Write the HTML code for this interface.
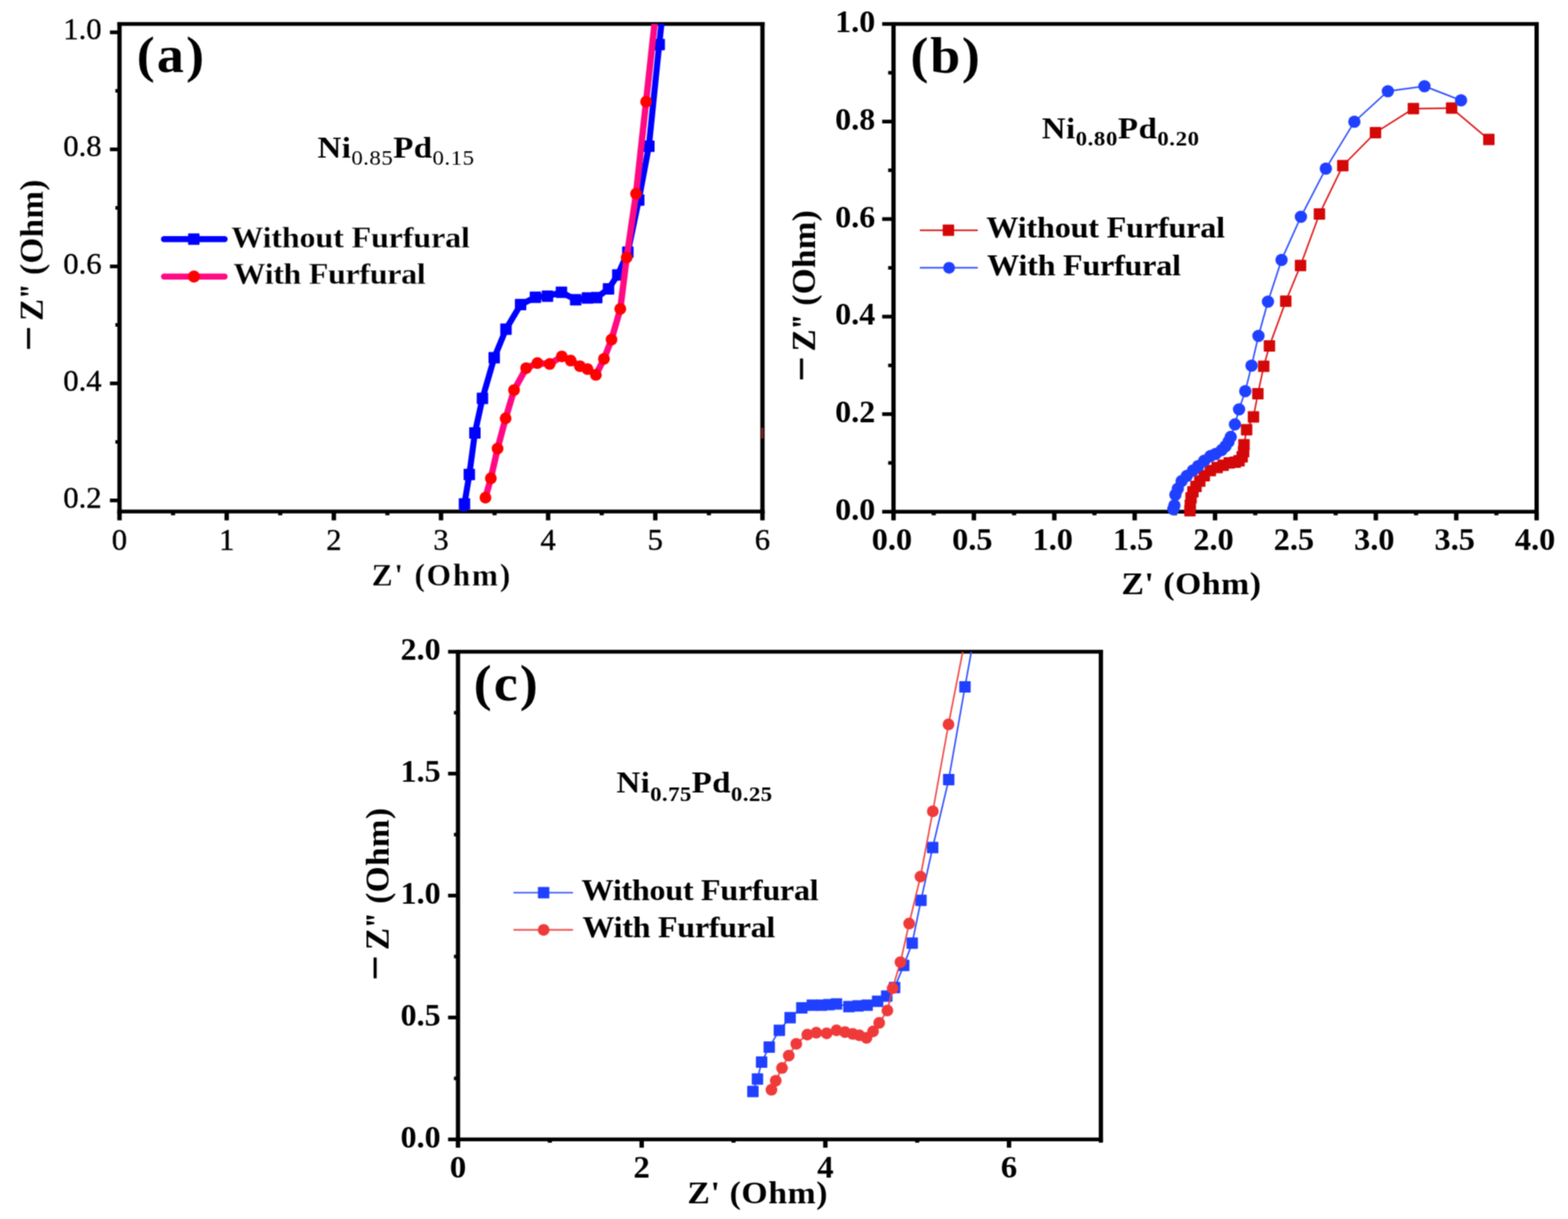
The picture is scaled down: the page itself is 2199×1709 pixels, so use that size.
<!DOCTYPE html>
<html lang="en">
<head>
<meta charset="utf-8">
<title>Nyquist plots of NiPd catalysts with and without furfural</title>
<style>
html,body{margin:0;padding:0;background:#fff;}
body{width:2199px;height:1709px;overflow:hidden;}
svg{display:block;font-family:'Liberation Serif', 'DejaVu Serif', serif;}
svg text{fill:#000;}
</style>
</head>
<body>
<svg width="2199" height="1709" viewBox="0 0 2199 1709">
<defs>
<filter id="soften" x="0" y="0" width="2199" height="1709" filterUnits="userSpaceOnUse" color-interpolation-filters="sRGB">
<feConvolveMatrix order="3" kernelMatrix="1 2 1 2 4 2 1 2 1" divisor="16" edgeMode="duplicate" preserveAlpha="false"/>
</filter>
</defs>
<g filter="url(#soften)">
<rect width="2199" height="1709" fill="#fff"/>
<g id="panel-a">
<line x1="154.2" y1="45.3" x2="167.6" y2="45.3" stroke="#000" stroke-width="5.2" stroke-linecap="butt"/>
<text transform="translate(142.6,55.3) scale(1.0,1)" font-size="43" font-weight="normal" text-anchor="end" stroke="#000" stroke-width="0.5">1.0</text>
<line x1="154.2" y1="209.4" x2="167.6" y2="209.4" stroke="#000" stroke-width="5.2" stroke-linecap="butt"/>
<text transform="translate(142.6,219.4) scale(1.0,1)" font-size="43" font-weight="normal" text-anchor="end" stroke="#000" stroke-width="0.5">0.8</text>
<line x1="154.2" y1="373.5" x2="167.6" y2="373.5" stroke="#000" stroke-width="5.2" stroke-linecap="butt"/>
<text transform="translate(142.6,383.5) scale(1.0,1)" font-size="43" font-weight="normal" text-anchor="end" stroke="#000" stroke-width="0.5">0.6</text>
<line x1="154.2" y1="537.5" x2="167.6" y2="537.5" stroke="#000" stroke-width="5.2" stroke-linecap="butt"/>
<text transform="translate(142.6,547.5) scale(1.0,1)" font-size="43" font-weight="normal" text-anchor="end" stroke="#000" stroke-width="0.5">0.4</text>
<line x1="154.2" y1="701.6" x2="167.6" y2="701.6" stroke="#000" stroke-width="5.2" stroke-linecap="butt"/>
<text transform="translate(142.6,711.6) scale(1.0,1)" font-size="43" font-weight="normal" text-anchor="end" stroke="#000" stroke-width="0.5">0.2</text>
<line x1="161.8" y1="127.3" x2="167.6" y2="127.3" stroke="#000" stroke-width="5" stroke-linecap="butt"/>
<line x1="161.8" y1="291.4" x2="167.6" y2="291.4" stroke="#000" stroke-width="5" stroke-linecap="butt"/>
<line x1="161.8" y1="455.5" x2="167.6" y2="455.5" stroke="#000" stroke-width="5" stroke-linecap="butt"/>
<line x1="161.8" y1="619.6" x2="167.6" y2="619.6" stroke="#000" stroke-width="5" stroke-linecap="butt"/>
<line x1="167.6" y1="717.1" x2="167.6" y2="729.5" stroke="#000" stroke-width="6.2" stroke-linecap="butt"/>
<text transform="translate(167.6,771.3) scale(1.0,1)" font-size="43" font-weight="normal" text-anchor="middle" stroke="#000" stroke-width="0.5">0</text>
<line x1="317.9" y1="717.1" x2="317.9" y2="729.5" stroke="#000" stroke-width="6.2" stroke-linecap="butt"/>
<text transform="translate(317.9,771.3) scale(1.0,1)" font-size="43" font-weight="normal" text-anchor="middle" stroke="#000" stroke-width="0.5">1</text>
<line x1="468.2" y1="717.1" x2="468.2" y2="729.5" stroke="#000" stroke-width="6.2" stroke-linecap="butt"/>
<text transform="translate(468.2,771.3) scale(1.0,1)" font-size="43" font-weight="normal" text-anchor="middle" stroke="#000" stroke-width="0.5">2</text>
<line x1="618.5" y1="717.1" x2="618.5" y2="729.5" stroke="#000" stroke-width="6.2" stroke-linecap="butt"/>
<text transform="translate(618.5,771.3) scale(1.0,1)" font-size="43" font-weight="normal" text-anchor="middle" stroke="#000" stroke-width="0.5">3</text>
<line x1="768.7" y1="717.1" x2="768.7" y2="729.5" stroke="#000" stroke-width="6.2" stroke-linecap="butt"/>
<text transform="translate(768.7,771.3) scale(1.0,1)" font-size="43" font-weight="normal" text-anchor="middle" stroke="#000" stroke-width="0.5">4</text>
<line x1="919.0" y1="717.1" x2="919.0" y2="729.5" stroke="#000" stroke-width="6.2" stroke-linecap="butt"/>
<text transform="translate(919.0,771.3) scale(1.0,1)" font-size="43" font-weight="normal" text-anchor="middle" stroke="#000" stroke-width="0.5">5</text>
<line x1="1069.3" y1="717.1" x2="1069.3" y2="729.5" stroke="#000" stroke-width="6.2" stroke-linecap="butt"/>
<text transform="translate(1069.3,771.3) scale(1.0,1)" font-size="43" font-weight="normal" text-anchor="middle" stroke="#000" stroke-width="0.5">6</text>
<line x1="242.7" y1="717.1" x2="242.7" y2="722.4" stroke="#000" stroke-width="5.8" stroke-linecap="butt"/>
<line x1="393.0" y1="717.1" x2="393.0" y2="722.4" stroke="#000" stroke-width="5.8" stroke-linecap="butt"/>
<line x1="543.3" y1="717.1" x2="543.3" y2="722.4" stroke="#000" stroke-width="5.8" stroke-linecap="butt"/>
<line x1="693.6" y1="717.1" x2="693.6" y2="722.4" stroke="#000" stroke-width="5.8" stroke-linecap="butt"/>
<line x1="843.9" y1="717.1" x2="843.9" y2="722.4" stroke="#000" stroke-width="5.8" stroke-linecap="butt"/>
<line x1="994.2" y1="717.1" x2="994.2" y2="722.4" stroke="#000" stroke-width="5.8" stroke-linecap="butt"/>
<rect x="164.60" y="30.95" width="907.70" height="5.3" fill="#000"/>
<rect x="164.60" y="714.45" width="907.70" height="5.3" fill="#000"/>
<rect x="164.60" y="30.95" width="6.0" height="688.80" fill="#000"/>
<rect x="1066.30" y="30.95" width="6.0" height="688.80" fill="#000"/>
<text transform="translate(523.30,820.70) scale(1.0000,1.0000)" x="-2.11" y="0" letter-spacing="2.46" stroke="#fff" stroke-width="0.3" xml:space="preserve"><tspan font-size="44" font-weight="bold">Z' (Ohm)</tspan></text>
<text transform="translate(59.50,489.00) rotate(-90) scale(1.0000,1.0000)" x="-3.32" y="0" letter-spacing="0.48" stroke="#fff" stroke-width="0.2" xml:space="preserve"><tspan font-size="63" font-weight="bold" dy="1.90">−</tspan><tspan font-size="22" font-weight="bold" dy="-1.90"> </tspan><tspan font-size="46.5" font-weight="bold">Z</tspan><tspan font-size="46.5" font-weight="bold" letter-spacing="-5.52">'</tspan><tspan font-size="46.5" font-weight="bold">' (Ohm)</tspan></text>
<text transform="translate(195.00,100.50) scale(1.0600,1.0000)" x="-3.14" y="0" letter-spacing="2.97" xml:space="preserve"><tspan font-size="71.5" font-weight="bold">(a)</tspan></text>
<text transform="translate(446.10,221.00) scale(1.0750,1.0000)" x="-0.82" y="0" letter-spacing="0.56" xml:space="preserve"><tspan font-size="43" font-weight="bold">Ni</tspan><tspan font-size="30" font-weight="normal" dy="10.30">0.85</tspan><tspan font-size="43" font-weight="bold" dy="-10.30">Pd</tspan><tspan font-size="30" font-weight="normal" dy="10.30">0.15</tspan></text>
<line x1="230.0" y1="335.3" x2="315.0" y2="335.3" stroke="#0000ff" stroke-width="8.5" stroke-linecap="round"/>
<rect x="263.8" y="327.3" width="16" height="16" rx="0.8" fill="#0000ff"/>
<line x1="230.0" y1="387.8" x2="315.0" y2="387.8" stroke="#ff0a84" stroke-width="8.5" stroke-linecap="round"/>
<circle cx="272.0" cy="387.8" r="8.5" fill="#ff0000"/>
<text transform="translate(324.80,346.90) scale(1.0750,1.0000)" x="-0.59" y="0" letter-spacing="-0.26" stroke="#fff" stroke-width="0.3" xml:space="preserve"><tspan font-size="42" font-weight="bold">Without Furfural</tspan></text>
<text transform="translate(328.00,398.40) scale(1.0750,1.0000)" x="-0.59" y="0" letter-spacing="-0.51" stroke="#fff" stroke-width="0.3" xml:space="preserve"><tspan font-size="42" font-weight="bold">With Furfural</tspan></text>
<rect x="1067.6" y="599.5" width="3" height="15.5" rx="1" fill="#8c2020"/>
<clipPath id="clipA"><rect x="167.6" y="33.6" width="901.7" height="683.5"/></clipPath><g clip-path="url(#clipA)">
<polyline points="649.6,720.0 651.4,706.4 658.2,665.2 666.0,607.0 676.6,558.6 693.1,501.6 709.6,461.5 730.1,427.1 750.9,416.7 767.8,415.3 787.4,409.7 807.4,420.3 823.9,417.7 836.9,417.2 853.4,405.0 866.4,385.4 880.5,353.6 895.8,280.4 910.0,205.0 924.5,62.4 928.2,28.0 929.0,20.0" fill="none" stroke="#0000ff" stroke-width="8.5" stroke-linejoin="round"/>
<rect x="643.4" y="698.4" width="16" height="16" rx="0.8" fill="#0000ff"/>
<rect x="650.2" y="657.2" width="16" height="16" rx="0.8" fill="#0000ff"/>
<rect x="658.0" y="599.0" width="16" height="16" rx="0.8" fill="#0000ff"/>
<rect x="668.6" y="550.6" width="16" height="16" rx="0.8" fill="#0000ff"/>
<rect x="685.1" y="493.6" width="16" height="16" rx="0.8" fill="#0000ff"/>
<rect x="701.6" y="453.5" width="16" height="16" rx="0.8" fill="#0000ff"/>
<rect x="722.1" y="419.1" width="16" height="16" rx="0.8" fill="#0000ff"/>
<rect x="742.9" y="408.7" width="16" height="16" rx="0.8" fill="#0000ff"/>
<rect x="759.8" y="407.3" width="16" height="16" rx="0.8" fill="#0000ff"/>
<rect x="779.4" y="401.7" width="16" height="16" rx="0.8" fill="#0000ff"/>
<rect x="799.4" y="412.3" width="16" height="16" rx="0.8" fill="#0000ff"/>
<rect x="815.9" y="409.7" width="16" height="16" rx="0.8" fill="#0000ff"/>
<rect x="828.9" y="409.2" width="16" height="16" rx="0.8" fill="#0000ff"/>
<rect x="845.4" y="397.0" width="16" height="16" rx="0.8" fill="#0000ff"/>
<rect x="858.4" y="377.4" width="16" height="16" rx="0.8" fill="#0000ff"/>
<rect x="872.5" y="345.6" width="16" height="16" rx="0.8" fill="#0000ff"/>
<rect x="887.8" y="272.4" width="16" height="16" rx="0.8" fill="#0000ff"/>
<rect x="902.0" y="197.0" width="16" height="16" rx="0.8" fill="#0000ff"/>
<rect x="916.5" y="54.4" width="16" height="16" rx="0.8" fill="#0000ff"/>
<polyline points="680.8,697.7 688.4,670.6 697.8,628.9 709.1,586.5 720.9,546.9 737.9,516.2 753.7,509.1 770.9,510.3 787.9,499.7 800.4,505.6 813.3,513.4 823.9,517.4 835.7,525.6 847.0,503.2 857.6,476.1 869.9,433.2 878.9,361.0 892.0,271.6 906.1,142.6 920.5,10.0" fill="none" stroke="#ff0a84" stroke-width="9" stroke-linejoin="round"/>
<circle cx="680.8" cy="697.7" r="8.25" fill="#ff0000"/>
<circle cx="688.4" cy="670.6" r="8.25" fill="#ff0000"/>
<circle cx="697.8" cy="628.9" r="8.25" fill="#ff0000"/>
<circle cx="709.1" cy="586.5" r="8.25" fill="#ff0000"/>
<circle cx="720.9" cy="546.9" r="8.25" fill="#ff0000"/>
<circle cx="737.9" cy="516.2" r="8.25" fill="#ff0000"/>
<circle cx="753.7" cy="509.1" r="8.25" fill="#ff0000"/>
<circle cx="770.9" cy="510.3" r="8.25" fill="#ff0000"/>
<circle cx="787.9" cy="499.7" r="8.25" fill="#ff0000"/>
<circle cx="800.4" cy="505.6" r="8.25" fill="#ff0000"/>
<circle cx="813.3" cy="513.4" r="8.25" fill="#ff0000"/>
<circle cx="823.9" cy="517.4" r="8.25" fill="#ff0000"/>
<circle cx="835.7" cy="525.6" r="8.25" fill="#ff0000"/>
<circle cx="847.0" cy="503.2" r="8.25" fill="#ff0000"/>
<circle cx="857.6" cy="476.1" r="8.25" fill="#ff0000"/>
<circle cx="869.9" cy="433.2" r="8.25" fill="#ff0000"/>
<circle cx="878.9" cy="361.0" r="8.25" fill="#ff0000"/>
<circle cx="892.0" cy="271.6" r="8.25" fill="#ff0000"/>
<circle cx="906.1" cy="142.6" r="8.25" fill="#ff0000"/>
</g>
</g>
<g id="panel-b">
<line x1="1237.2" y1="717.4" x2="1253.1" y2="717.4" stroke="#000" stroke-width="5.2" stroke-linecap="butt"/>
<text transform="translate(1227.5,728.9) scale(1.01,1)" font-size="44.5" font-weight="bold" text-anchor="end">0.0</text>
<line x1="1237.2" y1="580.6" x2="1253.1" y2="580.6" stroke="#000" stroke-width="5.2" stroke-linecap="butt"/>
<text transform="translate(1227.5,592.1) scale(1.01,1)" font-size="44.5" font-weight="bold" text-anchor="end">0.2</text>
<line x1="1237.2" y1="443.9" x2="1253.1" y2="443.9" stroke="#000" stroke-width="5.2" stroke-linecap="butt"/>
<text transform="translate(1227.5,455.4) scale(1.01,1)" font-size="44.5" font-weight="bold" text-anchor="end">0.4</text>
<line x1="1237.2" y1="307.1" x2="1253.1" y2="307.1" stroke="#000" stroke-width="5.2" stroke-linecap="butt"/>
<text transform="translate(1227.5,318.6) scale(1.01,1)" font-size="44.5" font-weight="bold" text-anchor="end">0.6</text>
<line x1="1237.2" y1="170.4" x2="1253.1" y2="170.4" stroke="#000" stroke-width="5.2" stroke-linecap="butt"/>
<text transform="translate(1227.5,181.9) scale(1.01,1)" font-size="44.5" font-weight="bold" text-anchor="end">0.8</text>
<line x1="1237.2" y1="33.6" x2="1253.1" y2="33.6" stroke="#000" stroke-width="5.2" stroke-linecap="butt"/>
<text transform="translate(1227.5,45.1) scale(1.01,1)" font-size="44.5" font-weight="bold" text-anchor="end">1.0</text>
<line x1="1245.6" y1="649.0" x2="1253.1" y2="649.0" stroke="#000" stroke-width="5" stroke-linecap="butt"/>
<line x1="1245.6" y1="512.3" x2="1253.1" y2="512.3" stroke="#000" stroke-width="5" stroke-linecap="butt"/>
<line x1="1245.6" y1="375.5" x2="1253.1" y2="375.5" stroke="#000" stroke-width="5" stroke-linecap="butt"/>
<line x1="1245.6" y1="238.7" x2="1253.1" y2="238.7" stroke="#000" stroke-width="5" stroke-linecap="butt"/>
<line x1="1245.6" y1="102.0" x2="1253.1" y2="102.0" stroke="#000" stroke-width="5" stroke-linecap="butt"/>
<line x1="1253.1" y1="717.4" x2="1253.1" y2="729.5" stroke="#000" stroke-width="6.2" stroke-linecap="butt"/>
<text transform="translate(1250.9,771.3) scale(1.02,1)" font-size="44.5" font-weight="bold" text-anchor="middle">0.0</text>
<line x1="1365.8" y1="717.4" x2="1365.8" y2="729.5" stroke="#000" stroke-width="6.2" stroke-linecap="butt"/>
<text transform="translate(1363.6,771.3) scale(1.02,1)" font-size="44.5" font-weight="bold" text-anchor="middle">0.5</text>
<line x1="1478.6" y1="717.4" x2="1478.6" y2="729.5" stroke="#000" stroke-width="6.2" stroke-linecap="butt"/>
<text transform="translate(1476.4,771.3) scale(1.02,1)" font-size="44.5" font-weight="bold" text-anchor="middle">1.0</text>
<line x1="1591.3" y1="717.4" x2="1591.3" y2="729.5" stroke="#000" stroke-width="6.2" stroke-linecap="butt"/>
<text transform="translate(1589.1,771.3) scale(1.02,1)" font-size="44.5" font-weight="bold" text-anchor="middle">1.5</text>
<line x1="1704.0" y1="717.4" x2="1704.0" y2="729.5" stroke="#000" stroke-width="6.2" stroke-linecap="butt"/>
<text transform="translate(1701.8,771.3) scale(1.02,1)" font-size="44.5" font-weight="bold" text-anchor="middle">2.0</text>
<line x1="1816.8" y1="717.4" x2="1816.8" y2="729.5" stroke="#000" stroke-width="6.2" stroke-linecap="butt"/>
<text transform="translate(1814.6,771.3) scale(1.02,1)" font-size="44.5" font-weight="bold" text-anchor="middle">2.5</text>
<line x1="1929.5" y1="717.4" x2="1929.5" y2="729.5" stroke="#000" stroke-width="6.2" stroke-linecap="butt"/>
<text transform="translate(1927.3,771.3) scale(1.02,1)" font-size="44.5" font-weight="bold" text-anchor="middle">3.0</text>
<line x1="2042.3" y1="717.4" x2="2042.3" y2="729.5" stroke="#000" stroke-width="6.2" stroke-linecap="butt"/>
<text transform="translate(2040.1,771.3) scale(1.02,1)" font-size="44.5" font-weight="bold" text-anchor="middle">3.5</text>
<line x1="2155.0" y1="717.4" x2="2155.0" y2="729.5" stroke="#000" stroke-width="6.2" stroke-linecap="butt"/>
<text transform="translate(2152.8,771.3) scale(1.02,1)" font-size="44.5" font-weight="bold" text-anchor="middle">4.0</text>
<line x1="1309.5" y1="717.4" x2="1309.5" y2="722.4" stroke="#000" stroke-width="5.8" stroke-linecap="butt"/>
<line x1="1422.2" y1="717.4" x2="1422.2" y2="722.4" stroke="#000" stroke-width="5.8" stroke-linecap="butt"/>
<line x1="1534.9" y1="717.4" x2="1534.9" y2="722.4" stroke="#000" stroke-width="5.8" stroke-linecap="butt"/>
<line x1="1647.7" y1="717.4" x2="1647.7" y2="722.4" stroke="#000" stroke-width="5.8" stroke-linecap="butt"/>
<line x1="1760.4" y1="717.4" x2="1760.4" y2="722.4" stroke="#000" stroke-width="5.8" stroke-linecap="butt"/>
<line x1="1873.2" y1="717.4" x2="1873.2" y2="722.4" stroke="#000" stroke-width="5.8" stroke-linecap="butt"/>
<line x1="1985.9" y1="717.4" x2="1985.9" y2="722.4" stroke="#000" stroke-width="5.8" stroke-linecap="butt"/>
<line x1="2098.6" y1="717.4" x2="2098.6" y2="722.4" stroke="#000" stroke-width="5.8" stroke-linecap="butt"/>
<rect x="1250.10" y="30.95" width="907.90" height="5.3" fill="#000"/>
<rect x="1250.10" y="714.75" width="907.90" height="5.3" fill="#000"/>
<rect x="1250.10" y="30.95" width="6.0" height="689.10" fill="#000"/>
<rect x="2152.00" y="30.95" width="6.0" height="689.10" fill="#000"/>
<text transform="translate(1575.10,832.80) scale(1.0750,1.0000)" x="-2.11" y="0" letter-spacing="0.69" xml:space="preserve"><tspan font-size="44" font-weight="bold">Z' (Ohm)</tspan></text>
<text transform="translate(1143.00,531.60) rotate(-90) scale(1.0000,1.0000)" x="-3.32" y="0" letter-spacing="0.44" xml:space="preserve"><tspan font-size="63" font-weight="bold" dy="1.90">−</tspan><tspan font-size="22" font-weight="bold" dy="-1.90"> </tspan><tspan font-size="46.5" font-weight="bold">Z</tspan><tspan font-size="46.5" font-weight="bold" letter-spacing="-5.56">'</tspan><tspan font-size="46.5" font-weight="bold">' (Ohm)</tspan></text>
<text transform="translate(1280.20,101.50) scale(1.0600,1.0000)" x="-3.14" y="0" letter-spacing="2.28" xml:space="preserve"><tspan font-size="71.5" font-weight="bold">(b)</tspan></text>
<text transform="translate(1461.80,194.10) scale(1.0750,1.0000)" x="-0.82" y="0" letter-spacing="0.65" xml:space="preserve"><tspan font-size="43" font-weight="bold">Ni</tspan><tspan font-size="30" font-weight="bold" dy="10.30">0.80</tspan><tspan font-size="43" font-weight="bold" dy="-10.30">Pd</tspan><tspan font-size="30" font-weight="bold" dy="10.30">0.20</tspan></text>
<line x1="1290.0" y1="322.8" x2="1371.3" y2="322.8" stroke="#e01a1a" stroke-width="2.2" stroke-linecap="butt"/>
<rect x="1322.1" y="314.8" width="16" height="16" rx="0.8" fill="#d40808"/>
<line x1="1290.0" y1="375.4" x2="1371.3" y2="375.4" stroke="#3050ff" stroke-width="2.2" stroke-linecap="butt"/>
<circle cx="1331.0" cy="375.4" r="8.25" fill="#2040ff"/>
<text transform="translate(1383.90,333.30) scale(1.0750,1.0000)" x="-0.59" y="0" letter-spacing="-0.26" xml:space="preserve"><tspan font-size="42" font-weight="bold">Without Furfural</tspan></text>
<text transform="translate(1385.00,386.00) scale(1.0750,1.0000)" x="-0.59" y="0" letter-spacing="-0.34" xml:space="preserve"><tspan font-size="42" font-weight="bold">With Furfural</tspan></text>
<polyline points="1668.8,715.9 1669.3,708.5 1670.4,697.9 1673.0,689.4 1677.3,682.0 1682.6,674.5 1688.9,667.1 1697.4,659.7 1707.0,655.4 1715.4,652.3 1723.9,649.1 1732.4,648.0 1737.7,645.9 1742.0,640.6 1744.1,633.2 1744.6,623.6 1748.3,602.4 1757.9,584.4 1764.1,551.9 1772.3,513.6 1780.3,485.0 1803.2,422.3 1823.9,372.2 1850.4,300.1 1883.2,232.2 1929.0,185.9 1982.2,152.3 2035.8,151.6 2088.0,195.6" fill="none" stroke="#e01a1a" stroke-width="2.2" stroke-linejoin="round"/>
<rect x="1660.8" y="707.9" width="16" height="16" rx="0.8" fill="#d40808"/>
<rect x="1661.3" y="700.5" width="16" height="16" rx="0.8" fill="#d40808"/>
<rect x="1662.4" y="689.9" width="16" height="16" rx="0.8" fill="#d40808"/>
<rect x="1665.0" y="681.4" width="16" height="16" rx="0.8" fill="#d40808"/>
<rect x="1669.3" y="674.0" width="16" height="16" rx="0.8" fill="#d40808"/>
<rect x="1674.6" y="666.5" width="16" height="16" rx="0.8" fill="#d40808"/>
<rect x="1680.9" y="659.1" width="16" height="16" rx="0.8" fill="#d40808"/>
<rect x="1689.4" y="651.7" width="16" height="16" rx="0.8" fill="#d40808"/>
<rect x="1699.0" y="647.4" width="16" height="16" rx="0.8" fill="#d40808"/>
<rect x="1707.4" y="644.3" width="16" height="16" rx="0.8" fill="#d40808"/>
<rect x="1715.9" y="641.1" width="16" height="16" rx="0.8" fill="#d40808"/>
<rect x="1724.4" y="640.0" width="16" height="16" rx="0.8" fill="#d40808"/>
<rect x="1729.7" y="637.9" width="16" height="16" rx="0.8" fill="#d40808"/>
<rect x="1734.0" y="632.6" width="16" height="16" rx="0.8" fill="#d40808"/>
<rect x="1736.1" y="625.2" width="16" height="16" rx="0.8" fill="#d40808"/>
<rect x="1736.6" y="615.6" width="16" height="16" rx="0.8" fill="#d40808"/>
<rect x="1740.3" y="594.4" width="16" height="16" rx="0.8" fill="#d40808"/>
<rect x="1749.9" y="576.4" width="16" height="16" rx="0.8" fill="#d40808"/>
<rect x="1756.1" y="543.9" width="16" height="16" rx="0.8" fill="#d40808"/>
<rect x="1764.3" y="505.6" width="16" height="16" rx="0.8" fill="#d40808"/>
<rect x="1772.3" y="477.0" width="16" height="16" rx="0.8" fill="#d40808"/>
<rect x="1795.2" y="414.3" width="16" height="16" rx="0.8" fill="#d40808"/>
<rect x="1815.9" y="364.2" width="16" height="16" rx="0.8" fill="#d40808"/>
<rect x="1842.4" y="292.1" width="16" height="16" rx="0.8" fill="#d40808"/>
<rect x="1875.2" y="224.2" width="16" height="16" rx="0.8" fill="#d40808"/>
<rect x="1921.0" y="177.9" width="16" height="16" rx="0.8" fill="#d40808"/>
<rect x="1974.2" y="144.3" width="16" height="16" rx="0.8" fill="#d40808"/>
<rect x="2027.8" y="143.6" width="16" height="16" rx="0.8" fill="#d40808"/>
<rect x="2080.0" y="187.6" width="16" height="16" rx="0.8" fill="#d40808"/>
<polyline points="1645.5,713.8 1647.0,708.5 1648.4,693.6 1651.8,685.1 1657.1,674.5 1664.5,667.1 1673.0,659.7 1680.4,653.3 1688.9,645.9 1697.4,639.5 1704.8,636.4 1713.3,631.0 1718.6,625.7 1722.9,619.4 1726.0,612.5 1731.9,595.0 1737.7,573.8 1746.4,548.4 1755.2,512.7 1764.9,470.9 1778.2,422.9 1797.3,364.3 1824.4,303.9 1859.4,236.3 1899.4,170.7 1946.4,127.8 1997.7,120.9 2049.0,140.7" fill="none" stroke="#3050ff" stroke-width="2.2" stroke-linejoin="round"/>
<circle cx="1645.5" cy="713.8" r="8.65" fill="#2040ff"/>
<circle cx="1647.0" cy="708.5" r="8.65" fill="#2040ff"/>
<circle cx="1648.4" cy="693.6" r="8.65" fill="#2040ff"/>
<circle cx="1651.8" cy="685.1" r="8.65" fill="#2040ff"/>
<circle cx="1657.1" cy="674.5" r="8.65" fill="#2040ff"/>
<circle cx="1664.5" cy="667.1" r="8.65" fill="#2040ff"/>
<circle cx="1673.0" cy="659.7" r="8.65" fill="#2040ff"/>
<circle cx="1680.4" cy="653.3" r="8.65" fill="#2040ff"/>
<circle cx="1688.9" cy="645.9" r="8.65" fill="#2040ff"/>
<circle cx="1697.4" cy="639.5" r="8.65" fill="#2040ff"/>
<circle cx="1704.8" cy="636.4" r="8.65" fill="#2040ff"/>
<circle cx="1713.3" cy="631.0" r="8.65" fill="#2040ff"/>
<circle cx="1718.6" cy="625.7" r="8.65" fill="#2040ff"/>
<circle cx="1722.9" cy="619.4" r="8.65" fill="#2040ff"/>
<circle cx="1726.0" cy="612.5" r="8.65" fill="#2040ff"/>
<circle cx="1731.9" cy="595.0" r="8.65" fill="#2040ff"/>
<circle cx="1737.7" cy="573.8" r="8.65" fill="#2040ff"/>
<circle cx="1746.4" cy="548.4" r="8.65" fill="#2040ff"/>
<circle cx="1755.2" cy="512.7" r="8.65" fill="#2040ff"/>
<circle cx="1764.9" cy="470.9" r="8.65" fill="#2040ff"/>
<circle cx="1778.2" cy="422.9" r="8.65" fill="#2040ff"/>
<circle cx="1797.3" cy="364.3" r="8.65" fill="#2040ff"/>
<circle cx="1824.4" cy="303.9" r="8.65" fill="#2040ff"/>
<circle cx="1859.4" cy="236.3" r="8.65" fill="#2040ff"/>
<circle cx="1899.4" cy="170.7" r="8.65" fill="#2040ff"/>
<circle cx="1946.4" cy="127.8" r="8.65" fill="#2040ff"/>
<circle cx="1997.7" cy="120.9" r="8.65" fill="#2040ff"/>
<circle cx="2049.0" cy="140.7" r="8.65" fill="#2040ff"/>
</g>
<g id="panel-c">
<line x1="628.4" y1="1597.4" x2="642.3" y2="1597.4" stroke="#000" stroke-width="5.2" stroke-linecap="butt"/>
<text transform="translate(618.0,1609.1) scale(1.01,1)" font-size="44.5" font-weight="bold" text-anchor="end">0.0</text>
<line x1="628.4" y1="1426.5" x2="642.3" y2="1426.5" stroke="#000" stroke-width="5.2" stroke-linecap="butt"/>
<text transform="translate(618.0,1438.2) scale(1.01,1)" font-size="44.5" font-weight="bold" text-anchor="end">0.5</text>
<line x1="628.4" y1="1255.6" x2="642.3" y2="1255.6" stroke="#000" stroke-width="5.2" stroke-linecap="butt"/>
<text transform="translate(618.0,1267.3) scale(1.01,1)" font-size="44.5" font-weight="bold" text-anchor="end">1.0</text>
<line x1="628.4" y1="1084.6" x2="642.3" y2="1084.6" stroke="#000" stroke-width="5.2" stroke-linecap="butt"/>
<text transform="translate(618.0,1096.3) scale(1.01,1)" font-size="44.5" font-weight="bold" text-anchor="end">1.5</text>
<line x1="628.4" y1="913.7" x2="642.3" y2="913.7" stroke="#000" stroke-width="5.2" stroke-linecap="butt"/>
<text transform="translate(618.0,925.4) scale(1.01,1)" font-size="44.5" font-weight="bold" text-anchor="end">2.0</text>
<line x1="636.6" y1="1511.9" x2="642.3" y2="1511.9" stroke="#000" stroke-width="5" stroke-linecap="butt"/>
<line x1="636.6" y1="1341.0" x2="642.3" y2="1341.0" stroke="#000" stroke-width="5" stroke-linecap="butt"/>
<line x1="636.6" y1="1170.1" x2="642.3" y2="1170.1" stroke="#000" stroke-width="5" stroke-linecap="butt"/>
<line x1="636.6" y1="999.2" x2="642.3" y2="999.2" stroke="#000" stroke-width="5" stroke-linecap="butt"/>
<line x1="642.3" y1="1597.4" x2="642.3" y2="1609.0" stroke="#000" stroke-width="6.2" stroke-linecap="butt"/>
<text transform="translate(642.3,1650.8) scale(1.04,1)" font-size="44.5" font-weight="bold" text-anchor="middle">0</text>
<line x1="899.9" y1="1597.4" x2="899.9" y2="1609.0" stroke="#000" stroke-width="6.2" stroke-linecap="butt"/>
<text transform="translate(899.9,1650.8) scale(1.04,1)" font-size="44.5" font-weight="bold" text-anchor="middle">2</text>
<line x1="1157.5" y1="1597.4" x2="1157.5" y2="1609.0" stroke="#000" stroke-width="6.2" stroke-linecap="butt"/>
<text transform="translate(1157.5,1650.8) scale(1.04,1)" font-size="44.5" font-weight="bold" text-anchor="middle">4</text>
<line x1="1415.1" y1="1597.4" x2="1415.1" y2="1609.0" stroke="#000" stroke-width="6.2" stroke-linecap="butt"/>
<text transform="translate(1415.1,1650.8) scale(1.04,1)" font-size="44.5" font-weight="bold" text-anchor="middle">6</text>
<line x1="771.1" y1="1597.4" x2="771.1" y2="1602.0" stroke="#000" stroke-width="5.8" stroke-linecap="butt"/>
<line x1="1028.7" y1="1597.4" x2="1028.7" y2="1602.0" stroke="#000" stroke-width="5.8" stroke-linecap="butt"/>
<line x1="1286.3" y1="1597.4" x2="1286.3" y2="1602.0" stroke="#000" stroke-width="5.8" stroke-linecap="butt"/>
<line x1="1543.9" y1="1597.4" x2="1543.9" y2="1602.0" stroke="#000" stroke-width="5.8" stroke-linecap="butt"/>
<rect x="639.30" y="911.05" width="907.60" height="5.3" fill="#000"/>
<rect x="639.30" y="1594.75" width="907.60" height="5.3" fill="#000"/>
<rect x="639.30" y="911.05" width="6.0" height="689.00" fill="#000"/>
<rect x="1540.90" y="911.05" width="6.0" height="689.00" fill="#000"/>
<text transform="translate(966.30,1687.10) scale(1.0750,1.0000)" x="-2.11" y="0" letter-spacing="0.81" xml:space="preserve"><tspan font-size="44" font-weight="bold">Z' (Ohm)</tspan></text>
<text transform="translate(545.00,1371.40) rotate(-90) scale(1.0000,1.0000)" x="-3.32" y="0" letter-spacing="0.63" xml:space="preserve"><tspan font-size="63" font-weight="bold" dy="1.90">−</tspan><tspan font-size="22" font-weight="bold" dy="-1.90"> </tspan><tspan font-size="46.5" font-weight="bold">Z</tspan><tspan font-size="46.5" font-weight="bold" letter-spacing="-5.37">'</tspan><tspan font-size="46.5" font-weight="bold">' (Ohm)</tspan></text>
<text transform="translate(667.70,981.60) scale(1.0600,1.0000)" x="-3.14" y="0" letter-spacing="2.76" xml:space="preserve"><tspan font-size="71.5" font-weight="bold">(c)</tspan></text>
<text transform="translate(865.40,1111.40) scale(1.0750,1.0000)" x="-0.82" y="0" letter-spacing="0.46" xml:space="preserve"><tspan font-size="43" font-weight="bold">Ni</tspan><tspan font-size="30" font-weight="bold" dy="11.90">0.75</tspan><tspan font-size="43" font-weight="bold" dy="-11.90">Pd</tspan><tspan font-size="30" font-weight="bold" dy="11.90">0.25</tspan></text>
<line x1="720.1" y1="1251.5" x2="803.6" y2="1251.5" stroke="#3050ff" stroke-width="2.2" stroke-linecap="butt"/>
<rect x="754.4" y="1243.5" width="16" height="16" rx="0.8" fill="#2040ff"/>
<line x1="720.1" y1="1303.7" x2="803.6" y2="1303.7" stroke="#f04545" stroke-width="2.2" stroke-linecap="butt"/>
<circle cx="762.4" cy="1303.7" r="8.25" fill="#f03a3a"/>
<text transform="translate(816.20,1261.80) scale(1.0750,1.0000)" x="-0.59" y="0" letter-spacing="-0.40" xml:space="preserve"><tspan font-size="42" font-weight="bold">Without Furfural</tspan></text>
<text transform="translate(817.40,1313.70) scale(1.0750,1.0000)" x="-0.59" y="0" letter-spacing="-0.44" xml:space="preserve"><tspan font-size="42" font-weight="bold">With Furfural</tspan></text>
<clipPath id="clipC"><rect x="642.3" y="913.7" width="901.6" height="683.7"/></clipPath><g clip-path="url(#clipC)">
<polyline points="1055.9,1530.2 1062.3,1512.8 1068.1,1489.0 1078.8,1468.0 1093.0,1444.5 1108.1,1426.7 1124.5,1413.0 1139.2,1409.3 1152.0,1409.3 1162.5,1408.6 1173.1,1407.5 1190.5,1411.2 1203.3,1410.3 1216.1,1409.3 1230.8,1403.8 1243.6,1396.5 1254.6,1384.6 1267.4,1353.5 1279.3,1322.3 1291.6,1262.2 1308.0,1188.2 1330.5,1092.9 1353.3,962.9 1366.5,890.0" fill="none" stroke="#3050ff" stroke-width="2.2" stroke-linejoin="round"/>
<rect x="1047.9" y="1522.2" width="16" height="16" rx="0.8" fill="#2040ff"/>
<rect x="1054.3" y="1504.8" width="16" height="16" rx="0.8" fill="#2040ff"/>
<rect x="1060.1" y="1481.0" width="16" height="16" rx="0.8" fill="#2040ff"/>
<rect x="1070.8" y="1460.0" width="16" height="16" rx="0.8" fill="#2040ff"/>
<rect x="1085.0" y="1436.5" width="16" height="16" rx="0.8" fill="#2040ff"/>
<rect x="1100.1" y="1418.7" width="16" height="16" rx="0.8" fill="#2040ff"/>
<rect x="1116.5" y="1405.0" width="16" height="16" rx="0.8" fill="#2040ff"/>
<rect x="1131.2" y="1401.3" width="16" height="16" rx="0.8" fill="#2040ff"/>
<rect x="1144.0" y="1401.3" width="16" height="16" rx="0.8" fill="#2040ff"/>
<rect x="1154.5" y="1400.6" width="16" height="16" rx="0.8" fill="#2040ff"/>
<rect x="1165.1" y="1399.5" width="16" height="16" rx="0.8" fill="#2040ff"/>
<rect x="1182.5" y="1403.2" width="16" height="16" rx="0.8" fill="#2040ff"/>
<rect x="1195.3" y="1402.3" width="16" height="16" rx="0.8" fill="#2040ff"/>
<rect x="1208.1" y="1401.3" width="16" height="16" rx="0.8" fill="#2040ff"/>
<rect x="1222.8" y="1395.8" width="16" height="16" rx="0.8" fill="#2040ff"/>
<rect x="1235.6" y="1388.5" width="16" height="16" rx="0.8" fill="#2040ff"/>
<rect x="1246.6" y="1376.6" width="16" height="16" rx="0.8" fill="#2040ff"/>
<rect x="1259.4" y="1345.5" width="16" height="16" rx="0.8" fill="#2040ff"/>
<rect x="1271.3" y="1314.3" width="16" height="16" rx="0.8" fill="#2040ff"/>
<rect x="1283.6" y="1254.2" width="16" height="16" rx="0.8" fill="#2040ff"/>
<rect x="1300.0" y="1180.2" width="16" height="16" rx="0.8" fill="#2040ff"/>
<rect x="1322.5" y="1084.9" width="16" height="16" rx="0.8" fill="#2040ff"/>
<rect x="1345.3" y="954.9" width="16" height="16" rx="0.8" fill="#2040ff"/>
<polyline points="1081.9,1527.8 1087.9,1515.2 1096.7,1497.3 1106.2,1479.9 1116.7,1463.4 1132.2,1450.5 1144.7,1447.8 1159.3,1448.7 1173.1,1444.5 1185.0,1446.9 1196.0,1449.6 1205.1,1451.5 1215.2,1455.1 1224.4,1446.0 1233.0,1434.1 1244.5,1416.7 1251.8,1385.5 1262.8,1348.9 1275.0,1294.8 1290.9,1229.0 1308.2,1137.4 1330.2,1015.6 1354.8,890.0" fill="none" stroke="#f04545" stroke-width="2.2" stroke-linejoin="round"/>
<circle cx="1081.9" cy="1527.8" r="8.25" fill="#f03a3a"/>
<circle cx="1087.9" cy="1515.2" r="8.25" fill="#f03a3a"/>
<circle cx="1096.7" cy="1497.3" r="8.25" fill="#f03a3a"/>
<circle cx="1106.2" cy="1479.9" r="8.25" fill="#f03a3a"/>
<circle cx="1116.7" cy="1463.4" r="8.25" fill="#f03a3a"/>
<circle cx="1132.2" cy="1450.5" r="8.25" fill="#f03a3a"/>
<circle cx="1144.7" cy="1447.8" r="8.25" fill="#f03a3a"/>
<circle cx="1159.3" cy="1448.7" r="8.25" fill="#f03a3a"/>
<circle cx="1173.1" cy="1444.5" r="8.25" fill="#f03a3a"/>
<circle cx="1185.0" cy="1446.9" r="8.25" fill="#f03a3a"/>
<circle cx="1196.0" cy="1449.6" r="8.25" fill="#f03a3a"/>
<circle cx="1205.1" cy="1451.5" r="8.25" fill="#f03a3a"/>
<circle cx="1215.2" cy="1455.1" r="8.25" fill="#f03a3a"/>
<circle cx="1224.4" cy="1446.0" r="8.25" fill="#f03a3a"/>
<circle cx="1233.0" cy="1434.1" r="8.25" fill="#f03a3a"/>
<circle cx="1244.5" cy="1416.7" r="8.25" fill="#f03a3a"/>
<circle cx="1251.8" cy="1385.5" r="8.25" fill="#f03a3a"/>
<circle cx="1262.8" cy="1348.9" r="8.25" fill="#f03a3a"/>
<circle cx="1275.0" cy="1294.8" r="8.25" fill="#f03a3a"/>
<circle cx="1290.9" cy="1229.0" r="8.25" fill="#f03a3a"/>
<circle cx="1308.2" cy="1137.4" r="8.25" fill="#f03a3a"/>
<circle cx="1330.2" cy="1015.6" r="8.25" fill="#f03a3a"/>
</g>
</g>
</g>
</svg>
</body>
</html>
